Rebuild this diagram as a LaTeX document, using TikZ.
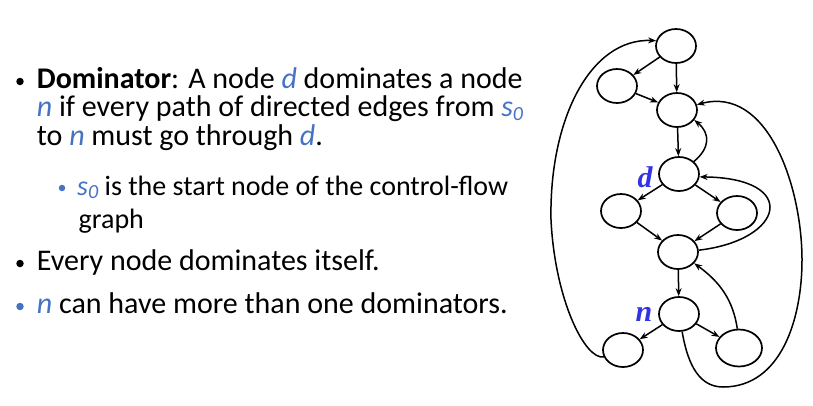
\documentclass[tikz,border=0pt]{standalone}
\usepackage{fontspec}
\setmainfont{Carlito}
\newfontfamily\lblfont{Liberation Serif}
\usetikzlibrary{shapes.geometric,arrows.meta}
\definecolor{txtblue}{RGB}{68,114,196}
\definecolor{lblblue}{RGB}{51,51,230}
\newcommand{\bl}[1]{\textcolor{txtblue}{\textit{#1}}}
\newcommand{\szero}{\bl{s}\raisebox{-0.25ex}{\fontsize{20}{20}\selectfont\bl{0}}}
\begin{document}
\begin{tikzpicture}[x=1pt,y=-1pt,
  gnode/.style={draw,ellipse,line width=1.7pt,minimum width=40pt,minimum height=34pt,inner sep=0pt},
  arr/.style={line width=1.5pt,-{Stealth[length=8pt,width=6pt]}},
  txt/.style={anchor=base west,inner sep=0pt,font=\fontsize{30}{34}\selectfont},
  subtxt/.style={anchor=base west,inner sep=0pt,font=\fontsize{28}{32}\selectfont},
  dot/.style={circle,inner sep=0pt,minimum size=7.5pt,fill=black},
  sdot/.style={circle,inner sep=0pt,minimum size=6.5pt,fill=txtblue},
  lbl/.style={text=lblblue,font=\lblfont\bfseries\itshape\fontsize{30}{30}\selectfont,inner sep=0pt}]
\useasboundingbox (0,0) rectangle (813,405);
% text
\node[dot] (b1) at (20,81.5) {};
\node[txt] (t1) at (36.7,88.3) {\textbf{Dominator}: A node \bl{d} dominates a node};
\node[txt] (t2) at (36.7,116.7) {\bl{n} if every path of directed edges from \szero};
\node[txt] (t3) at (36.7,145) {to \bl{n} must go through \bl{d}.};
\node[sdot] (b2) at (62,188) {};
\node[subtxt] (t4) at (77,195) {\szero\ is the start node of the control-flow};
\node[subtxt] (t5) at (78.5,228) {graph};
\node[dot] (b3) at (20,263.5) {};
\node[txt] (t6) at (36.7,270) {Every node dominates itself.};
\node[dot,fill=txtblue] (b4) at (20,306.5) {};
\node[txt] (t7) at (36.7,313) {\bl{n} can have more than one dominators.};
% graph nodes
\node[gnode] (s0) at (676,46) {};
\node[gnode] (A) at (617,86) {};
\node[gnode] (B) at (677,110) {};
\node[gnode] (d) at (679,174) {};
\node[gnode] (L) at (621,211) {};
\node[gnode] (R) at (737,213) {};
\node[gnode] (M) at (678,252) {};
\node[gnode] (n) at (679,314) {};
\node[gnode] (BL) at (623,350) {};
\node[gnode,minimum width=46pt,minimum height=37pt] (BR) at (739,348) {};
\node[lbl] (dl) at (645,177) {d};
\node[lbl] (nl) at (644,314) {n};
% edges
\draw[arr] (s0) -- (A);
\draw[arr] (s0) -- (B);
\draw[arr] (A) -- (B);
\draw[arr] (B) -- (d);
\draw[arr] (d) -- (L);
\draw[arr] (d) -- (R);
\draw[arr] (L) -- (M);
\draw[arr] (R) -- (M);
\draw[arr] (M) -- (n);
\draw[arr] (n) -- (BL);
\draw[arr] (n) -- (BR);
\draw[arr] (d.40) to[out=40,in=-40,looseness=1.3] (B.-30);
\draw[arr] (M.5) .. controls (785,240) and (800,178) .. (d.-8);
\draw[arr] (BR.95) .. controls (733,300) and (720,282) .. (M.-35);
\coordinate (wl) at (551,220);
\draw[arr] (BL.200) .. controls (585,360) and (555,300) .. (wl) .. controls (549,120) and (590,38) .. (s0.165);
\coordinate (wb) at (723,387);
\coordinate (wr) at (802,260);
\draw[arr] (n.-80) to[out=-80,in=180] (wb) to[out=0,in=-90] (wr) to[out=90,in=15] (B.15);
\end{tikzpicture}
\end{document}
